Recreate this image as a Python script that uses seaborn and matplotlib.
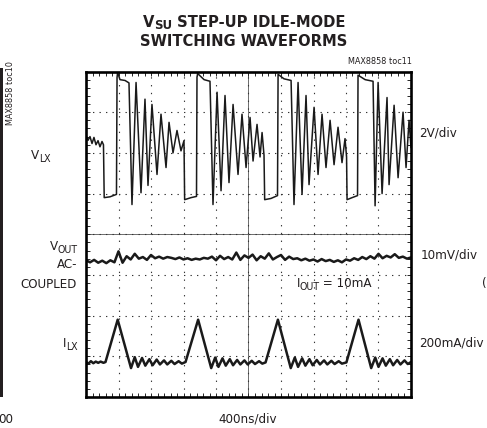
import numpy as np
import pandas as pd
import seaborn as sns
import matplotlib.pyplot as plt
from matplotlib import font_manager
from matplotlib.ticker import MultipleLocator
from matplotlib.patches import Rectangle

# --- scope traces: time in ns (400ns/div), level in screen divisions (0 = bottom, 8 = top)

vlx_t = [0, 25, 49, 74, 98, 123, 148, 172, 197, 215, 224, 295, 375, 382, 389, 418, 480, 529,
         566, 616, 677, 726, 763, 812, 874, 923, 985, 1022, 1071, 1120, 1169, 1206,
         1214, 1293, 1360, 1366, 1374, 1453, 1526,
         1563, 1613, 1662, 1711, 1760, 1810, 1871, 1920, 1970, 2019, 2056, 2105, 2142, 2167, 2191,
         2199, 2277, 2357, 2364, 2437, 2524,
         2560, 2610, 2659, 2708, 2745, 2807, 2856, 2905, 2954, 3004, 3053, 3102, 3151, 3188, 3207,
         3213, 3275, 3342, 3348, 3435, 3533,
         3558, 3595, 3644, 3705, 3730, 3792, 3841, 3902, 3939, 3976, 4000]
vlx_v = [6.43, 6.31, 6.40, 6.23, 6.38, 6.20, 6.30, 6.15, 6.28, 6.20, 4.90, 4.92, 4.98, 7.85, 7.98, 7.80, 7.78, 7.72,
         4.73, 7.73, 5.02, 7.32, 5.20, 7.19, 5.47, 6.95, 5.64, 6.75, 6.00, 6.55, 6.05, 6.30,
         4.85, 4.90, 4.93, 7.86, 7.95, 7.80, 7.76,
         4.73, 7.49, 5.07, 7.41, 5.27, 7.19, 5.47, 6.95, 5.64, 6.87, 5.80, 6.70, 5.90, 6.50, 5.94,
         4.85, 4.88, 4.95, 7.93, 7.82, 7.78,
         4.73, 7.73, 4.98, 7.41, 5.22, 7.12, 5.47, 6.95, 5.64, 6.80, 5.71, 6.63, 5.76, 6.35, 5.90,
         4.85, 4.90, 4.95, 7.91, 7.80, 7.76,
         4.70, 7.73, 5.00, 7.36, 5.22, 7.17, 5.39, 7.00, 5.64, 6.80, 6.13]

vout_t = list(range(0, 4001, 50))
vout_v = [3.36, 3.31, 3.37, 3.30, 3.35, 3.29, 3.36, 3.31, 3.58, 3.30,
          3.46, 3.38, 3.52, 3.40, 3.44, 3.37, 3.49, 3.41, 3.45, 3.40,
          3.44, 3.42, 3.39, 3.43, 3.38, 3.41, 3.37, 3.40, 3.38, 3.42,
          3.40, 3.45, 3.36, 3.47, 3.39, 3.44, 3.38, 3.55, 3.37, 3.48,
          3.42, 3.50, 3.36, 3.46, 3.40, 3.53, 3.38, 3.44, 3.49, 3.37,
          3.45, 3.39, 3.41, 3.36, 3.40, 3.35, 3.38, 3.33, 3.39, 3.34,
          3.37, 3.32, 3.36, 3.31, 3.38, 3.35, 3.41, 3.37, 3.44, 3.39,
          3.46, 3.40, 3.52, 3.41, 3.47, 3.43, 3.51, 3.42, 3.45, 3.40,
          3.43]

ilx_t = [0, 30, 60, 90, 120, 150, 180, 215, 240, 390,
         554, 600, 640, 690, 730, 780, 820, 870, 910, 960, 1000, 1050, 1090, 1140, 1180, 1225, 1380,
         1541, 1590, 1630, 1680, 1720, 1770, 1810, 1860, 1900, 1950, 1990, 2040, 2080, 2130, 2170, 2210, 2362,
         2520, 2570, 2610, 2660, 2700, 2750, 2790, 2840, 2880, 2930, 2970, 3020, 3060, 3110, 3150, 3205, 3354,
         3510, 3560, 3600, 3650, 3690, 3740, 3780, 3830, 3870, 3920, 3960, 4000]
ilx_v = [0.86, 0.82, 0.88, 0.83, 0.87, 0.84, 0.87, 0.84, 0.86, 1.90,
         0.71, 0.98, 0.74, 0.96, 0.77, 0.93, 0.78, 0.92, 0.80, 0.90, 0.80, 0.89, 0.81, 0.88, 0.82, 0.86, 1.90,
         0.71, 0.97, 0.74, 0.95, 0.77, 0.93, 0.78, 0.91, 0.80, 0.90, 0.80, 0.89, 0.81, 0.88, 0.82, 0.85, 1.90,
         0.71, 0.97, 0.74, 0.95, 0.77, 0.93, 0.78, 0.91, 0.80, 0.90, 0.80, 0.89, 0.81, 0.88, 0.82, 0.85, 1.90,
         0.71, 0.97, 0.74, 0.95, 0.77, 0.93, 0.78, 0.91, 0.80, 0.90, 0.81, 0.86]

W, H = 487, 428

sns.set_style("white")

# look for a condensed sans face, otherwise plain Liberation Sans a bit smaller
fam, stretch, scale = "Liberation Sans", "normal", 0.9
for f in font_manager.fontManager.ttflist:
    if f.stretch in ("condensed", "semi-condensed", "extra-condensed") and \
            f.name in ("Liberation Sans Narrow", "Noto Sans", "Open Sans", "Roboto", "DejaVu Sans", "Liberation Sans"):
        fam, stretch, scale = f.name, f.stretch, 1.0
        break
plt.rcParams["font.family"] = [fam, "DejaVu Sans"]
plt.rcParams["font.stretch"] = stretch
ink = "#231f20"

fig = plt.figure(figsize=(W / 100, H / 100), dpi=100)
pos = [86 / W, 1 - 397 / H, 325 / W, 325.5 / H]

# centre cross with fine graduations
axc = fig.add_axes(pos)
axc.set_xlim(0, 4000)
axc.set_ylim(0, 8)
axc.patch.set_alpha(0)
for s in ["top", "right"]:
    axc.spines[s].set_visible(False)
axc.spines["left"].set_position(("data", 2000))
axc.spines["bottom"].set_position(("data", 4))
for s in ["left", "bottom"]:
    axc.spines[s].set_linewidth(0.6)
    axc.spines[s].set_color("#555555")
axc.xaxis.set_major_locator(MultipleLocator(400))
axc.xaxis.set_minor_locator(MultipleLocator(80))
axc.yaxis.set_major_locator(MultipleLocator(1))
axc.yaxis.set_minor_locator(MultipleLocator(0.2))
axc.tick_params(which="both", direction="inout", length=4, width=0.7, color="#444444",
                labelbottom=False, labelleft=False)

ax = fig.add_axes(pos)
ax.set_zorder(2)
ax.patch.set_visible(False)

df_lx = pd.DataFrame({"t": vlx_t, "v": vlx_v})
df_out = pd.DataFrame({"t": vout_t, "v": vout_v})
df_il = pd.DataFrame({"t": ilx_t, "v": ilx_v})
sns.lineplot(data=df_lx, x="t", y="v", ax=ax, color="#1a1a1a", lw=1.1, estimator=None, sort=False)
sns.lineplot(data=df_out, x="t", y="v", ax=ax, color="#1a1a1a", lw=1.8, estimator=None, sort=False)
sns.lineplot(data=df_il, x="t", y="v", ax=ax, color="#1a1a1a", lw=1.8, estimator=None, sort=False)

ax.set_xlim(0, 4000)
ax.set_ylim(0, 8)
ax.set_xlabel("")
ax.set_ylabel("")
ax.xaxis.set_major_locator(MultipleLocator(400))
ax.xaxis.set_minor_locator(MultipleLocator(80))
ax.yaxis.set_major_locator(MultipleLocator(1))
ax.yaxis.set_minor_locator(MultipleLocator(0.2))
ax.tick_params(which="both", direction="in", length=3, width=0.7, top=True, right=True,
               bottom=True, left=True, labelbottom=False, labelleft=False)
ax.xaxis.grid(True, which="major", color="#333333", lw=0.8, linestyle=(0, (1.2, 5.8)))
ax.yaxis.grid(True, which="major", color="#333333", lw=0.8, linestyle=(0, (1.2, 4.65)))
for s in ax.spines.values():
    s.set_linewidth(1.9)
    s.set_color("black")

renderer = fig.canvas.get_renderer()


def ftext(px, py, s, size=9.5, **kw):
    kw.setdefault("color", ink)
    return fig.text(px / W, 1 - py / H, s, fontsize=size * scale, **kw)


def parts_text(px, py, parts, ha="left", size=9.5, weight="normal", drop=3):
    # parts: list of (string, is_subscript); py is the main baseline in pixels
    arts, widths = [], []
    for s, sub in parts:
        t = ftext(0, py + (drop if sub else 0), s, size=size * (0.8 if sub else 1.0),
                  va="baseline", ha="left", fontweight=weight)
        arts.append(t)
        widths.append(t.get_window_extent(renderer).width - 0.5)
    total = sum(widths)
    x0 = px if ha == "left" else (px - total if ha == "right" else px - total / 2)
    for t, w in zip(arts, widths):
        t.set_x(x0 / W)
        x0 += w


# title
parts_text(244, 27, [("V", False), ("SU", True), (" STEP-UP IDLE-MODE", False)],
           ha="center", size=11.8, weight="bold", drop=2)
ftext(244, 46, "SWITCHING WAVEFORMS", size=11.8, ha="center", va="baseline", fontweight="bold")
ftext(412, 64, "MAX8858 toc11", size=6.5, ha="right", va="baseline")

# channel labels
parts_text(50, 159, [("V", False), ("LX", True)], ha="right")
parts_text(77, 250, [("V", False), ("OUT", True)], ha="right")
ftext(77, 268, "AC-", ha="right", va="baseline")
ftext(77, 288, "COUPLED", ha="right", va="baseline")
parts_text(77, 347, [("I", False), ("LX", True)], ha="right")

ftext(419, 137, "2V/div", ha="left", va="baseline")
ftext(421, 259, "10mV/div", ha="left", va="baseline")
ftext(419, 347, "200mA/div", ha="left", va="baseline")
parts_text(297, 287, [("I", False), ("OUT", True), (" = 10mA", False)], ha="left")
ftext(248, 423, "400ns/div", ha="center", va="baseline")

# edges of the neighbouring charts
fig.add_artist(Rectangle((0, 1 - 397 / H), 3 / W, (397 - 68) / H, transform=fig.transFigure,
                         color=ink, lw=0))
ftext(11, 93, "MAX8858 toc10", size=6.5, ha="center", va="center", rotation=90)
ftext(-2, 423, "00", ha="left", va="baseline")
ftext(482, 287, "(", ha="left", va="baseline")

fig.savefig("out.png", dpi=100)
